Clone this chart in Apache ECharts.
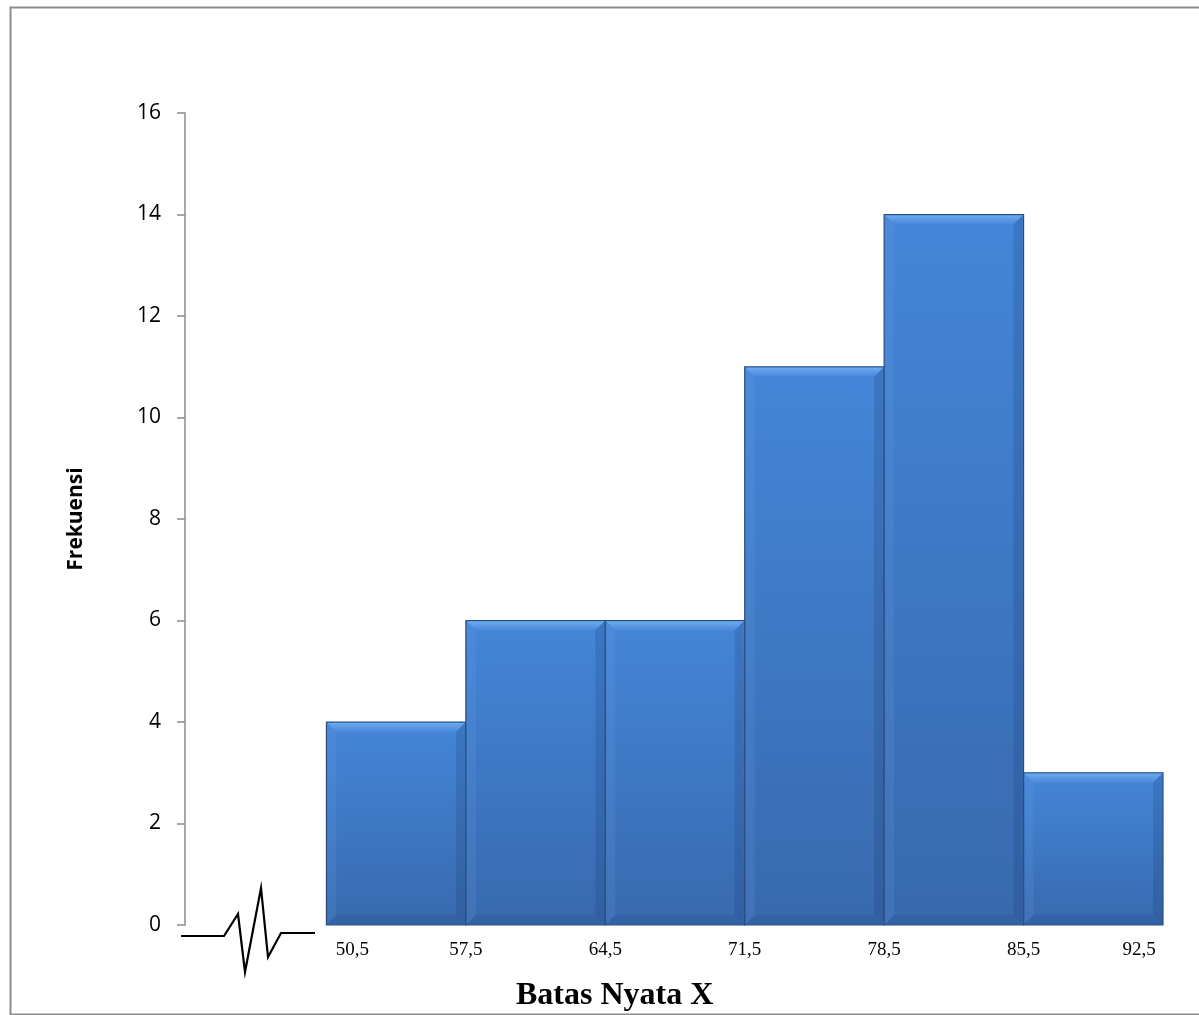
<!DOCTYPE html>
<html>
<head>
<meta charset="utf-8">
<script src="https://cdn.jsdelivr.net/npm/echarts@6.0.0/dist/echarts.min.js"></script>
<style>
    html, body { margin: 0; padding: 0; background: #fff; }
    #chart { width: 1199px; height: 1015px; }
</style>
</head>
<body>
<div id="chart"></div>
<script>
// batas nyata (class boundaries) and frekuensi per class
var batas = [50.5, 57.5, 64.5, 71.5, 78.5, 85.5, 92.5];
var frekuensi = [4, 6, 6, 11, 14, 3];
var yTicks = [0, 2, 4, 6, 8, 10, 12, 14, 16];

var histData = [];
for (var i = 0; i < frekuensi.length; i++) {
    histData.push([batas[i], batas[i + 1], frekuensi[i]]);
}

var chart = echarts.init(document.getElementById('chart'));

function renderBar(params, api) {
    var lo = api.coord([api.value(0), api.value(2)]);
    var hi = api.coord([api.value(1), 0]);
    var x0 = lo[0], y0 = lo[1], x1 = hi[0], y1 = hi[1];
    var b = 10; // bevel size
    return {
        type: 'group',
        children: [{
            type: 'rect',
            shape: { x: x0, y: y0, width: x1 - x0, height: y1 - y0 },
            style: {
                fill: new echarts.graphic.LinearGradient(0, 0, 0, 1, [
                    { offset: 0, color: '#4486d8' },
                    { offset: 1, color: '#3869ae' }
                ]),
                stroke: '#2a4f7e',
                lineWidth: 1.2
            }
        }, {
            // top bevel
            type: 'polygon',
            shape: { points: [[x0 + 1, y0 + 1], [x1 - 1, y0 + 1], [x1 - b, y0 + b], [x0 + b, y0 + b]] },
            style: {
                fill: new echarts.graphic.LinearGradient(0, 0, 0, 1, [
                    { offset: 0, color: '#6ea9ef' },
                    { offset: 1, color: '#4888d9' }
                ])
            }
        }, {
            // left bevel
            type: 'polygon',
            shape: { points: [[x0 + 1, y0 + 1], [x0 + b, y0 + b], [x0 + b, y1 - b], [x0 + 1, y1 - 1]] },
            style: { fill: 'rgba(120,170,235,0.15)' }
        }, {
            // right bevel
            type: 'polygon',
            shape: { points: [[x1 - 1, y0 + 1], [x1 - b, y0 + b], [x1 - b, y1 - b], [x1 - 1, y1 - 1]] },
            style: { fill: 'rgba(20,50,100,0.18)' }
        }, {
            // bottom bevel
            type: 'polygon',
            shape: { points: [[x0 + 1, y1 - 1], [x0 + b, y1 - b], [x1 - b, y1 - b], [x1 - 1, y1 - 1]] },
            style: { fill: 'rgba(20,50,100,0.12)' }
        }]
    };
}

var option = {
    backgroundColor: '#fff',
    animation: false,
    grid: { left: 185, right: 36, top: 113, bottom: 90 },
    xAxis: {
        type: 'value',
        min: 43.4,
        max: 92.5,
        axisLine: { show: false },
        axisTick: { show: false },
        splitLine: { show: false },
        axisLabel: {
            customValues: batas,
            margin: 16,
            fontFamily: 'Liberation Serif',
            fontSize: 19,
            color: '#000',
            formatter: function(v) {
                var s = String(v).replace('.', ',');
                if (v === batas[0]) return '{first|' + s + '}';
                if (v === batas[batas.length - 1]) return '{last|' + s + '}';
                return s;
            },
            rich: {
                first: { fontFamily: 'Liberation Serif', fontSize: 19, color: '#000', padding: [0, 0, 0, 52] },
                last: { fontFamily: 'Liberation Serif', fontSize: 19, color: '#000', padding: [0, 48, 0, 0] }
            }
        }
    },
    yAxis: {
        type: 'value',
        min: 0,
        max: 16,
        interval: 2,
        name: 'Frekuensi',
        nameLocation: 'middle',
        nameGap: 98,
        nameTextStyle: { fontFamily: 'Open Sans', fontWeight: 'bold', fontSize: 21, color: '#000' },
        axisLine: { show: true, lineStyle: { color: '#8c8c8c', width: 1.5 } },
        axisTick: { show: true, length: 8, lineStyle: { color: '#8c8c8c', width: 1.5 } },
        splitLine: { show: false },
        axisLabel: {
            margin: 24,
            fontFamily: 'Open Sans',
            fontSize: 21,
            color: '#000',
            customValues: yTicks
        }
    },
    series: [{
        type: 'custom',
        renderItem: renderBar,
        encode: { x: [0, 1], y: 2 },
        data: histData
    }],
    graphic: [{
        type: 'rect',
        left: 8,
        top: 5,
        shape: { width: 1200, height: 1007 },
        style: { fill: 'none', stroke: '#8c8c8c', lineWidth: 2 },
        silent: true
    }, {
        // axis break mark
        type: 'polyline',
        shape: { points: [[181, 936], [224, 936], [238, 914], [245, 972], [261, 888], [268, 957], [281, 933], [315, 933]] },
        style: { fill: null, stroke: '#000', lineWidth: 2.2 }
    }, {
        type: 'text',
        left: 516,
        top: 980,
        style: {
            text: 'Batas Nyata X',
            font: 'bold 32px "Liberation Serif"',
            fill: '#000'
        }
    }]
};
chart.setOption(option);
</script>
</body>
</html>
